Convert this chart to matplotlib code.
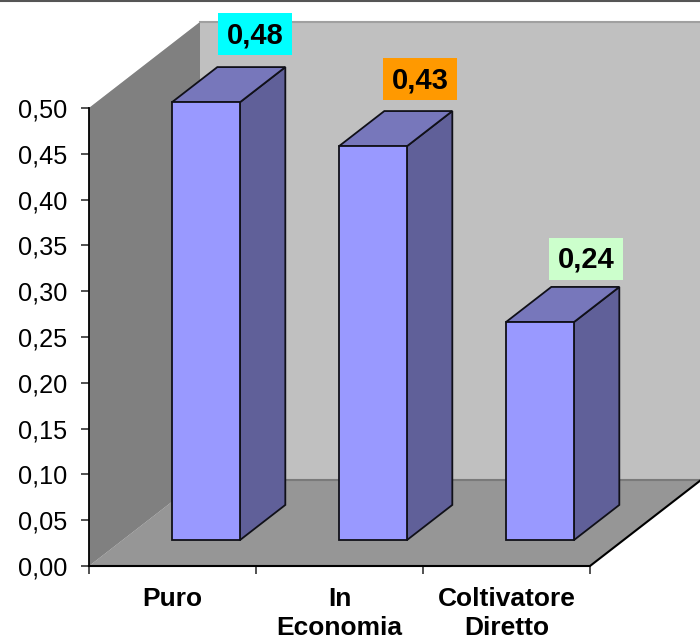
import matplotlib
matplotlib.use("Agg")
import matplotlib.pyplot as plt
from matplotlib.patches import Polygon, Rectangle
from matplotlib.lines import Line2D

categories = ["Puro", "In\nEconomia", "Coltivatore\nDiretto"]
values = [0.478, 0.430, 0.238]
value_labels = ["0,48", "0,43", "0,24"]
label_colors = ["#00FFFF", "#FF9900", "#CCFFCC"]
y_ticks = [0.00, 0.05, 0.10, 0.15, 0.20, 0.25, 0.30, 0.35, 0.40, 0.45, 0.50]
y_tick_labels = ["0,00", "0,05", "0,10", "0,15", "0,20", "0,25", "0,30", "0,35", "0,40", "0,45", "0,50"]

W, H = 700, 640
plt.rcParams["font.family"] = ["Liberation Sans", "DejaVu Sans"]
fig = plt.figure(figsize=(W / 100, H / 100), dpi=100, facecolor="white")
ax = fig.add_axes([89 / W, (H - 566) / H, 501 / W, 458 / H])
ax.set_xlim(0, 3)
ax.set_ylim(0, 0.5)
ax.patch.set_visible(False)

PX = 501 / 3
PY = 458 / 0.5
DX = 111 / PX
DY = 86 / PY


def P(x, y, d=0.0):
    return (x + d * DX, y + d * DY)


def poly(pts, fc, ec="none", lw=0.0, z=1):
    ax.add_patch(Polygon(pts, closed=True, facecolor=fc, edgecolor=ec, linewidth=lw,
                         zorder=z, clip_on=False, joinstyle="miter"))


# walls and floor
poly([P(0, 0), P(0, 0.5), P(0, 0.5, 1), P(3, 0.5, 1), P(3, 0, 1), P(0, 0, 1)], "#C0C0C0", z=1)
poly([P(0, 0), P(0, 0.5), P(0, 0.5, 1), P(0, 0, 1)], "#808080", z=2)
poly([P(0, 0), P(0, 0, 1), P(3, 0, 1), P(3, 0)], "#969696", z=3)
ax.add_line(Line2D(*zip(P(0, 0.5, 1), P(3, 0.5, 1)), color="#A0A0A0", lw=1.5, zorder=3, clip_on=False))
ax.add_line(Line2D(*zip(P(0, 0, 1), P(3, 0, 1)), color="#7A7A7A", lw=1.5, zorder=4, clip_on=False))
ax.add_line(Line2D(*zip(P(0, 0), P(3, 0), P(3, 0, 1)), color="black", lw=1.5, zorder=6, clip_on=False))

# bars
BW = 68 / PX
D0, D1 = 0.30, 0.71
label_gap = [33, 32, 28]
label_shift = [4, 2, 1]
for i, (v, t, c) in enumerate(zip(values, value_labels, label_colors)):
    x0 = i + 0.5 - BW / 2
    x1 = x0 + BW
    ec, lw = "#101018", 1.3
    poly([P(x1, 0, D0), P(x1, 0, D1), P(x1, v, D1), P(x1, v, D0)], "#606099", ec, lw, z=10)
    poly([P(x0, v, D0), P(x0, v, D1), P(x1, v, D1), P(x1, v, D0)], "#7777BB", ec, lw, z=10)
    poly([P(x0, 0, D0), P(x1, 0, D0), P(x1, v, D0), P(x0, v, D0)], "#9999FF", ec, lw, z=11)

    cx, cy = P(x0 + BW / 2, v, D1)
    cx += label_shift[i] / PX
    cy += label_gap[i] / PY
    bw, bh = 74 / PX, 42 / PY
    ax.add_patch(Rectangle((cx - bw / 2, cy - bh / 2), bw, bh, facecolor=c, edgecolor="none",
                           zorder=12, clip_on=False))
    ax.text(cx, cy + 2 / PY, t, ha="center", va="center_baseline", fontsize=21, fontweight="bold",
            color="black", zorder=13, clip_on=False)

# axes
for s in ax.spines.values():
    s.set_visible(False)
ax.spines["left"].set_visible(True)
ax.spines["left"].set_linewidth(1.3)
ax.spines["left"].set_zorder(6)
ax.set_yticks(y_ticks)
ax.set_yticklabels(y_tick_labels, fontsize=18.2)
ax.tick_params(axis="y", length=6, width=1.1, pad=9.5, color="#222222")
ax.set_xticks([0, 1, 2, 3])
ax.set_xticklabels([])
ax.tick_params(axis="x", which="major", length=6, width=1.1, color="#222222")
ax.set_xticks([0.5, 1.5, 2.5], minor=True)
ax.set_xticklabels(categories, minor=True, fontsize=19, fontweight="bold", linespacing=1.27)
ax.tick_params(axis="x", which="minor", length=0, pad=15)

fig.add_artist(Line2D([0, 1], [1 - 1.0 / H, 1 - 1.0 / H], color="#555555", lw=1.5))
fig.savefig("out.png", dpi=100)
